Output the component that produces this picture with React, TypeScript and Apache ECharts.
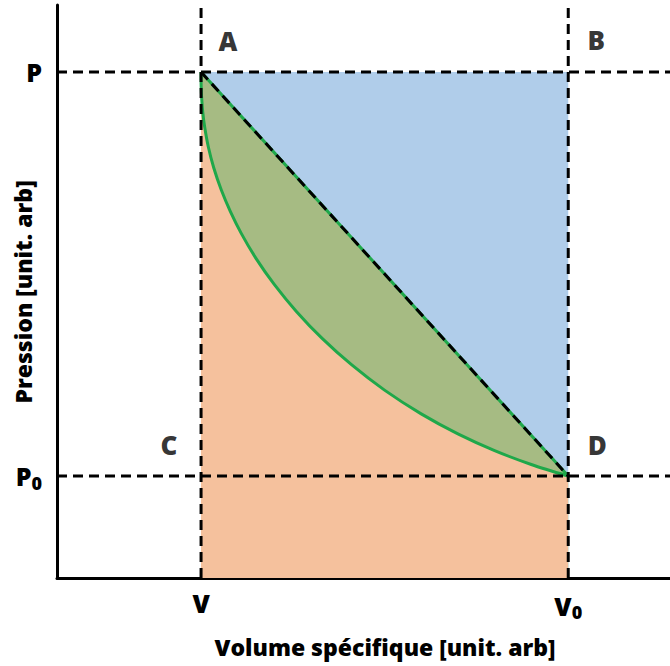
import React, { useEffect, useRef } from "react";
import * as echarts from "echarts";

// Key state values (arbitrary units)
const V = 2.35;
const V0 = 8.34;
const P = 8.83;
const P0 = 1.78;

// Green curve from A (V, P) to D (V0, P0)
const curveX = [2.349, 2.352, 2.361, 2.378, 2.409, 2.468, 2.558, 2.679, 2.829, 3.008, 3.246, 3.547, 3.905, 4.325, 4.804, 5.343, 5.941, 6.54, 7.139, 7.737, 8.336];
const curveY = [8.831, 8.572, 8.358, 8.124, 7.871, 7.527, 7.155, 6.775, 6.394, 6.01, 5.579, 5.12, 4.653, 4.182, 3.723, 3.279, 2.864, 2.515, 2.223, 1.981, 1.78];

const pointNames = ["A", "B", "C", "D"];
const pointX = [V, V0, V, V0];
const pointY = [P, P, P0, P0];

const xTickValues = [V, V0];
const xTickLabels = ["V", "V{s|0}"];
const yTickValues = [P0, P];
const yTickLabels = ["P{s|0}", "P"];

const xTitle = "Volume spécifique [unit. arb]";
const yTitle = "Pression [unit. arb]";

const FONT = "'Open Sans'";
const WEIGHT = 800;
const TEXT = "#000";
const BLUE = "#b0cdea";
const GREEN_FILL = "#a6bb83";
const ORANGE = "#f5c19d";
const GREEN_LINE = "#1fa84a";
const DASH = [10, 6];

export default function App() {
  const ref = useRef<HTMLDivElement>(null);

  useEffect(() => {
    if (!ref.current) return;
    const chart = echarts.init(ref.current, null, { renderer: "svg" });

    const curve = curveX.map((x, i) => [x, curveY[i]]);
    const labelOffsets = [
      [27, -31],
      [28, -32],
      [-32, -31],
      [29, -31],
    ];
    const rich = {
      s: { fontSize: 18, fontFamily: FONT, fontWeight: WEIGHT, color: TEXT, padding: [13, 0, 0, 0] },
    };
    const pick = (vals: number[], labels: string[], v: number) => {
      let best = 0;
      vals.forEach((vv, i) => {
        if (Math.abs(vv - v) < Math.abs(vals[best] - v)) best = i;
      });
      return labels[best];
    };

    const dashed = (data: number[][]) => ({
      type: "line",
      data,
      symbol: "none",
      silent: true,
      lineStyle: { color: "#000", width: 3, type: DASH },
    });

    const option: any = {
      animation: false,
      grid: { left: 57, right: 0, top: 5, height: 573 },
      xAxis: {
        type: "value",
        min: 0,
        max: 10,
        axisLine: { show: true, onZero: false, lineStyle: { color: "#000", width: 3 } },
        axisTick: { show: false },
        splitLine: { show: false },
        axisLabel: {
          customValues: xTickValues,
          formatter: (v: number) => pick(xTickValues, xTickLabels, v),
          margin: 12,
          color: TEXT,
          fontFamily: FONT,
          fontWeight: WEIGHT,
          fontSize: 25,
          rich,
        },
      },
      yAxis: {
        type: "value",
        min: 0,
        max: 10,
        axisLine: { show: true, onZero: false, lineStyle: { color: "#000", width: 3 } },
        axisTick: { show: false },
        splitLine: { show: false },
        axisLabel: {
          customValues: yTickValues,
          formatter: (v: number) => pick(yTickValues, yTickLabels, v),
          margin: 15,
          color: TEXT,
          fontFamily: FONT,
          fontWeight: WEIGHT,
          fontSize: 25,
          rich,
        },
      },
      series: [
        {
          type: "line",
          data: [
            [V, P],
            [V0, P],
          ],
          symbol: "none",
          silent: true,
          lineStyle: { width: 0 },
          areaStyle: { color: BLUE, opacity: 1 },
        },
        {
          type: "line",
          data: [
            [V, P],
            [V0, P0],
          ],
          symbol: "none",
          silent: true,
          lineStyle: { width: 3, color: GREEN_LINE },
          areaStyle: { color: GREEN_FILL, opacity: 1 },
        },
        {
          type: "line",
          data: curve,
          symbol: "none",
          silent: true,
          smooth: 0.3,
          lineStyle: { width: 3, color: GREEN_LINE },
          areaStyle: { color: ORANGE, opacity: 1 },
        },
        dashed([
          [V, 0],
          [V, 10],
        ]),
        dashed([
          [V0, 0],
          [V0, 10],
        ]),
        dashed([
          [0, P],
          [10, P],
        ]),
        dashed([
          [0, P0],
          [10, P0],
        ]),
        dashed([
          [V, P],
          [V0, P0],
        ]),
        {
          type: "scatter",
          symbolSize: 0,
          silent: true,
          data: pointNames.map((n, i) => ({
            name: n,
            value: [pointX[i], pointY[i]],
            label: {
              show: true,
              formatter: n,
              position: "inside",
              offset: labelOffsets[i],
              align: "center",
              verticalAlign: "middle",
              color: TEXT,
              fontFamily: FONT,
              fontWeight: WEIGHT,
              fontSize: 26,
            },
          })),
        },
      ],
      graphic: [
        {
          type: "text",
          x: 385,
          y: 647,
          style: {
            text: xTitle,
            fill: TEXT,
            font: `${WEIGHT} 23px ${FONT}`,
            align: "center",
            verticalAlign: "middle",
          },
        },
        {
          type: "text",
          x: 23,
          y: 292,
          rotation: Math.PI / 2,
          style: {
            text: yTitle,
            fill: TEXT,
            font: `${WEIGHT} 23px ${FONT}`,
            align: "center",
            verticalAlign: "middle",
          },
        },
      ],
    };

    chart.setOption(option);
    return () => chart.dispose();
  }, []);

  return (
    <div
      ref={ref}
      style={{ position: "fixed", left: 0, top: 0, width: 670, height: 666, background: "#fff" }}
    />
  );
}
